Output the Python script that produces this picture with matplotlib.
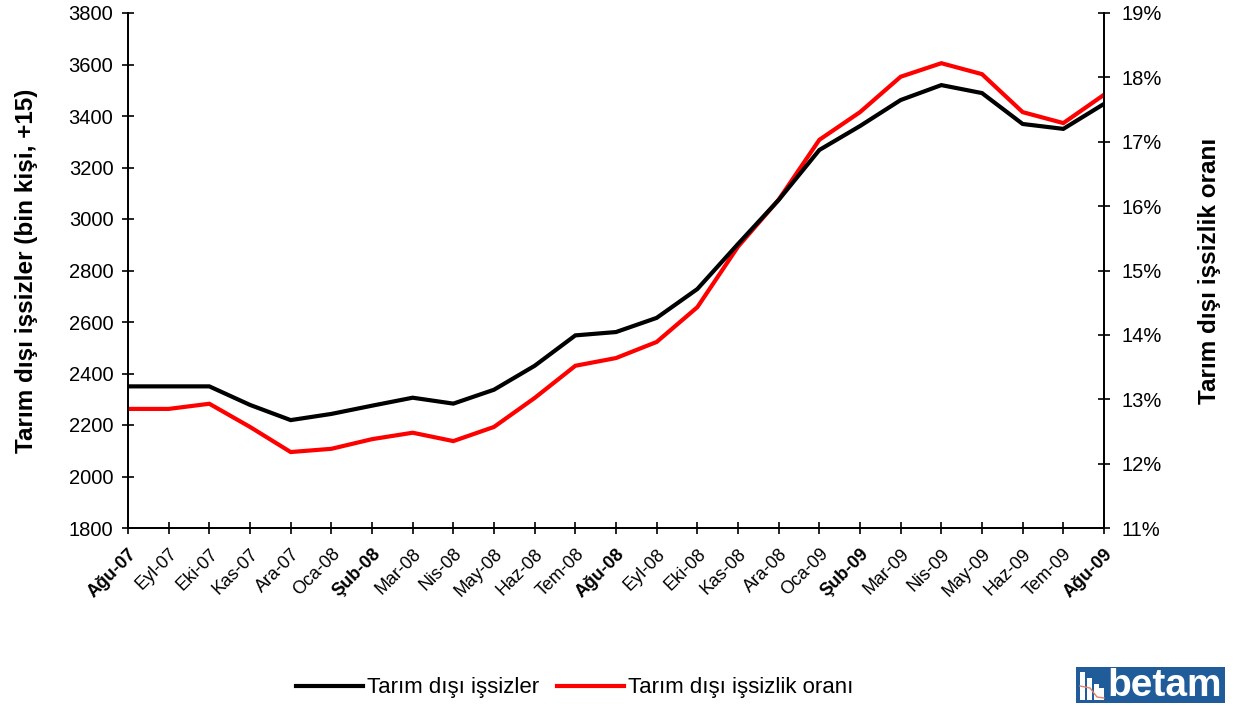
import matplotlib
matplotlib.use("Agg")
import matplotlib.pyplot as plt
from matplotlib.ticker import FuncFormatter
from matplotlib.patches import Rectangle

plt.rcParams['font.family'] = ['Liberation Sans', 'DejaVu Sans']

months = ["Ağu-07", "Eyl-07", "Eki-07", "Kas-07", "Ara-07", "Oca-08", "Şub-08",
          "Mar-08", "Nis-08", "May-08", "Haz-08", "Tem-08", "Ağu-08", "Eyl-08",
          "Eki-08", "Kas-08", "Ara-08", "Oca-09", "Şub-09", "Mar-09", "Nis-09",
          "May-09", "Haz-09", "Tem-09", "Ağu-09"]

# Tarım dışı işsizler (bin kişi)
issizler = [2350, 2350, 2350, 2278, 2219, 2243, 2275, 2306, 2283, 2337,
            2430, 2548, 2561, 2616, 2728, 2903, 3074, 3268, 3361, 3462,
            3520, 3489, 3369, 3350, 3447]

# Tarım dışı işsizlik oranı (%)
oran = [12.85, 12.85, 12.93, 12.57, 12.18, 12.23, 12.38, 12.48, 12.35, 12.57,
        13.02, 13.52, 13.64, 13.89, 14.43, 15.37, 16.10, 17.03, 17.46, 18.01,
        18.22, 18.05, 17.46, 17.29, 17.73]

W, H = 1243, 706
fig = plt.figure(figsize=(W / 100, H / 100), dpi=100)
ax = fig.add_axes([128 / W, 1 - 528 / H, (1104 - 128) / W, (528 - 13) / H])
ax2 = ax.twinx()

x = list(range(len(months)))
l1, = ax.plot(x, issizler, color="black", lw=3, solid_joinstyle="miter")
l2, = ax2.plot(x, oran, color="red", lw=3, solid_joinstyle="miter")
ax.set_zorder(ax2.get_zorder() + 1)
ax.patch.set_visible(False)

ax.set_xlim(0, len(months) - 1)
ax.set_ylim(1800, 3800)
ax.set_yticks(range(1800, 3801, 200))
ax2.set_ylim(11, 19)
ax2.set_yticks(range(11, 20))
ax2.yaxis.set_major_formatter(FuncFormatter(lambda v, p: "%d%%" % v))

for a in (ax, ax2):
    a.spines["top"].set_visible(False)
    a.tick_params(direction="inout", length=9, width=1.2, labelsize=14.5, colors="black")
    for s in a.spines.values():
        s.set_linewidth(1.3)
ax.tick_params(axis="y", pad=6)
ax2.tick_params(axis="y", pad=8)

ax.set_xticks(x)
ax.set_xticklabels(months, rotation=45, ha="right", rotation_mode="anchor", fontsize=13)
for lab in ax.get_xticklabels():
    if lab.get_text().startswith(("Ağu", "Şub")):
        lab.set_fontweight("bold")
ax.tick_params(axis="x", pad=8)

ax.set_ylabel("Tarım dışı işsizler (bin kişi, +15)", fontsize=17.5, fontweight="bold", labelpad=22)
ax2.set_ylabel("Tarım dışı işsizlik oranı", fontsize=17.5, fontweight="bold", labelpad=26)

fig.legend([l1, l2], ["Tarım dışı işsizler", "Tarım dışı işsizlik oranı"],
           loc="center", bbox_to_anchor=(575 / W, 1 - 688 / H), ncol=2, frameon=False,
           fontsize=16, handlelength=3.0, handletextpad=0.2, columnspacing=0.8)

# betam logo (bottom right)
def px_rect(x0, y0, x1, y1, **kw):
    fig.patches.append(Rectangle((x0 / W, 1 - y1 / H), (x1 - x0) / W, (y1 - y0) / H,
                                 transform=fig.transFigure, **kw))

px_rect(1076, 667, 1225, 703, fc="#1f5c99", ec="none")
for bx0, by0 in [(1080, 672), (1087, 678), (1094, 684), (1099, 688)]:
    px_rect(bx0, by0, bx0 + 5, 700, fc="white", ec="none")
fig.lines.append(plt.Line2D([1080 / W, 1090 / W, 1097 / W, 1104 / W],
                            [1 - 686 / H, 1 - 688 / H, 1 - 697 / H, 1 - 698 / H],
                            transform=fig.transFigure, color="#e8806a", lw=1))
fig.text(1165 / W, 1 - 686 / H, "betam", color="white", fontsize=28, fontweight="bold",
         ha="center", va="center")

fig.savefig("out.png", dpi=100)
